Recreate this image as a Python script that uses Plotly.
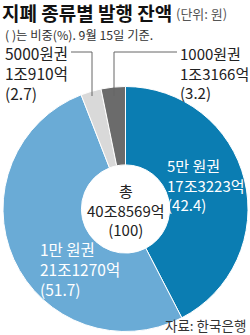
import plotly.graph_objects as go

W, H = 250, 335

# data
categories = ["5만 원권", "1만 원권", "5000원권", "1000원권"]
amounts = ["17조3223억", "21조1270억", "1조910억", "1조3166억"]
shares = [42.4, 51.7, 2.7, 3.2]
colors = ["#0b7db2", "#6aabd6", "#d9d9d9", "#6b6b6b"]
total_label = "40조8569억"
total_share = 100
title = "지폐 종류별 발행 잔액"
unit = "(단위: 원)"
subtitle = "( )는 비중(%). 9월 15일 기준."
source = "자료: 한국은행"

FONT = "Noto Sans CJK KR"

cx, cy, r = 125.5, 209.0, 122.5

fig = go.Figure(go.Pie(
    labels=categories, values=shares, sort=False, direction="clockwise",
    rotation=0, hole=0.36, textinfo="none", hoverinfo="label+value",
    marker=dict(colors=colors, line=dict(color="white", width=1)),
    domain=dict(x=[(cx - r) / W, (cx + r) / W], y=[1 - (cy + r) / H, 1 - (cy - r) / H]),
    showlegend=False,
))

def px(x):
    return x / W

def py(y):
    return 1 - y / H

anns = []
def add(text, x, y, size, color="#222", anchor="left", bold=False, pad=1):
    anns.append(dict(text=("<b>%s</b>" % text) if bold else text, x=px(x), y=py(y),
                     xref="paper", yref="paper", xanchor=anchor, yanchor="middle",
                     align=anchor, borderpad=pad,
                     showarrow=False, font=dict(family=FONT, size=size, color=color)))

def group(i):
    return "%s<br>%s<br>(%.1f)" % (categories[i], amounts[i], shares[i])

add(title, 1, 13, 19, "#111", bold=True, pad=0)
add(unit, 175, 14, 13, "#555", pad=0)
add(subtitle, 4, 35, 12.3, "#333", pad=0)

add(group(2), 3, 73, 15.5)
add(group(3), 178, 73, 15)
add(group(0), 165, 185, 15, "white")
add(group(1), 38, 269, 15.5, "white")
add("총<br>%s<br>(%d)" % (total_label, total_share), cx, 210, 15, "#222", anchor="center")
add(source, 247, 325, 13.5, "#333", anchor="right", pad=0)

line = dict(color="#666", width=1)
shapes = [
    dict(type="path", xref="paper", yref="paper",
         path="M %f %f L %f %f L %f %f" % (px(71), py(52), px(92), py(52), px(92), py(96)), line=line),
    dict(type="path", xref="paper", yref="paper",
         path="M %f %f L %f %f L %f %f" % (px(177), py(52), px(114), py(52), px(114), py(96)), line=line),
]

fig.update_layout(
    width=W, height=H, margin=dict(l=0, r=0, t=0, b=0),
    paper_bgcolor="white", plot_bgcolor="white",
    annotations=anns, shapes=shapes,
)

fig.write_html("out.html")
